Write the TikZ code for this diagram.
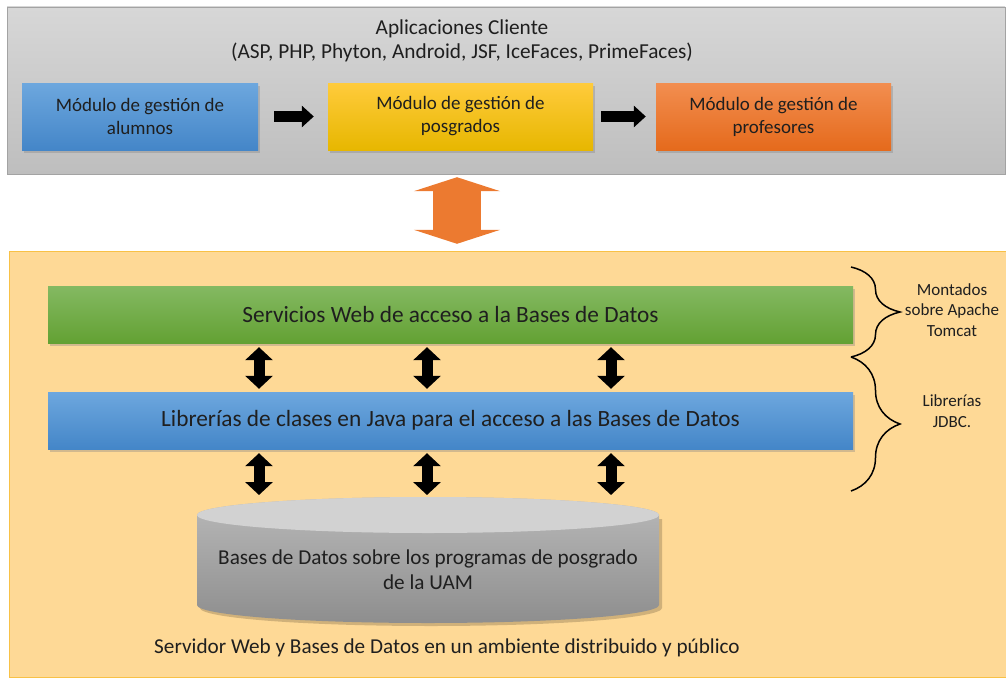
\documentclass[tikz,border=0pt]{standalone}
\usepackage{fontspec}
\setmainfont{Carlito}
\usetikzlibrary{arrows.meta,shadows,decorations.pathreplacing}

\definecolor{texto}{HTML}{1F1F1F}
\definecolor{grisA}{HTML}{D7D7D7}
\definecolor{grisB}{HTML}{BEBEBE}
\definecolor{grisBorde}{HTML}{A3A3A3}
\definecolor{servFondo}{HTML}{FED996}
\definecolor{servBorde}{HTML}{F8C146}
\definecolor{azulA}{HTML}{6DA7DE}
\definecolor{azulB}{HTML}{4486C8}
\definecolor{amaA}{HTML}{FFCB3C}
\definecolor{amaB}{HTML}{E7B700}
\definecolor{narA}{HTML}{F28E50}
\definecolor{narB}{HTML}{E56A1C}
\definecolor{verdeA}{HTML}{84B962}
\definecolor{verdeB}{HTML}{63A133}
\definecolor{naranja}{HTML}{EC7A30}
\definecolor{cilTapa}{HTML}{D2D2D2}
\definecolor{cilA}{HTML}{B9B9B9}
\definecolor{cilB}{HTML}{8E8E8E}

\begin{document}
\begin{tikzpicture}[x=1pt, y=-1pt,
    modulo/.style={minimum height=67pt, inner sep=0pt, align=center,
      font=\fontsize{19}{23}\selectfont, text=texto,
      drop shadow={opacity=0.35, shadow xshift=2pt, shadow yshift=-3pt}},
    capa/.style={minimum width=805pt, minimum height=57pt, inner sep=0pt,
      font=\fontsize{23.3}{26}\selectfont, text=texto,
      drop shadow={opacity=0.35, shadow xshift=2pt, shadow yshift=-3pt}},
    flecha/.style={line width=11pt, -{Triangle[width=21pt, length=12pt]}},
    dflecha/.style={line width=11pt,
      {Triangle[width=27pt, length=13pt]}-{Triangle[width=27pt, length=13pt]}},
    llave/.style={decorate, decoration={brace, amplitude=49pt}, line width=1.5pt},
    nota/.style={align=center, font=\fontsize{17}{20.5}\selectfont, text=texto}]
	\useasboundingbox (0,0) rectangle (1006,677);

	% cliente
	\node[draw=grisBorde, top color=grisA, bottom color=grisB, minimum width=998pt,
	  minimum height=167pt, inner sep=0pt] (cliente) at (506,90.5) {};
	\node[align=center, font=\fontsize{21.3}{24}\selectfont, text=texto] (titulo) at (462,41)
	  {Aplicaciones Cliente\\(ASP, PHP, Phyton, Android, JSF, IceFaces, PrimeFaces)};
	\node[modulo, minimum width=236pt, top color=azulA, bottom color=azulB] (alumnos)
	  at (140,116.5) {Módulo de gestión de\\alumnos};
	\node[modulo, minimum width=265pt, top color=amaA, bottom color=amaB] (posgrados)
	  at (460.5,116.5) {Módulo de gestión de\\posgrados};
	\node[modulo, minimum width=235pt, top color=narA, bottom color=narB] (profesores)
	  at (773.5,116.5) {Módulo de gestión de\\profesores};
	\draw[flecha, shorten <=16pt, shorten >=14pt] (alumnos) -- (posgrados);
	\draw[flecha, shorten <=8pt, shorten >=10pt] (posgrados) -- (profesores);

	% servidor
	\node[draw=servBorde, fill=servFondo, minimum width=997pt, minimum height=426pt,
	  inner sep=0pt] (servidor) at (507.5,464) {};
	\draw[line width=48pt, naranja, shorten <=3pt, shorten >=7pt,
	  {Triangle[width=86pt, length=14pt]}-{Triangle[width=86pt, length=14pt]}]
	  (cliente.south -| 457,0) -- (servidor.north -| 457,0);

	\node[capa, top color=verdeA, bottom color=verdeB] (servicios) at (450.5,314.5)
	  {Servicios Web de acceso a la Bases de Datos};
	\node[capa, top color=azulA, bottom color=azulB] (librerias) at (450.5,420.5)
	  {Librerías de clases en Java para el acceso a las Bases de Datos};

	% cilindro de la base de datos
	\fill[black, opacity=0.18] (200,519) -- (200,608) arc[start angle=180, end angle=360,
	  x radius=231pt, y radius=18pt] -- (662,519) -- cycle;
	\shade[top color=cilA, bottom color=cilB] (197,515) -- (197,605)
	  arc[start angle=180, end angle=360, x radius=231pt, y radius=18pt] -- (659,515)
	  arc[start angle=0, end angle=180, x radius=231pt, y radius=18pt] -- cycle;
	\fill[cilTapa] (428,515) ellipse[x radius=231pt, y radius=18pt];
	\coordinate (bdtope) at (428,496);
	\node[align=center, font=\fontsize{21.2}{25}\selectfont, text=texto] (bd) at (428,569.5)
	  {Bases de Datos sobre los programas de posgrado\\de la UAM};

	\foreach \x in {259,427,611}{
	  \draw[dflecha, shorten <=4pt, shorten >=3pt] (servicios.south -| \x,0) -- (librerias.north -| \x,0);
	  \draw[dflecha, shorten <=4pt, shorten >=1pt] (librerias.south -| \x,0) -- (bdtope -| \x,0);
	}

	% llaves
	\draw[llave] (851,267) -- (851,357);
	\draw[llave] (851,357) -- (851,491);
	\node[nota] (tomcat) at (952,310) {Montados\\sobre Apache\\Tomcat};
	\node[nota] (jdbc) at (952,411) {Librerías\\JDBC.};

	\node[font=\fontsize{21.2}{24}\selectfont, text=texto] (pie) at (447,648)
	  {Servidor Web y Bases de Datos en un ambiente distribuido y público};
\end{tikzpicture}
\end{document}
